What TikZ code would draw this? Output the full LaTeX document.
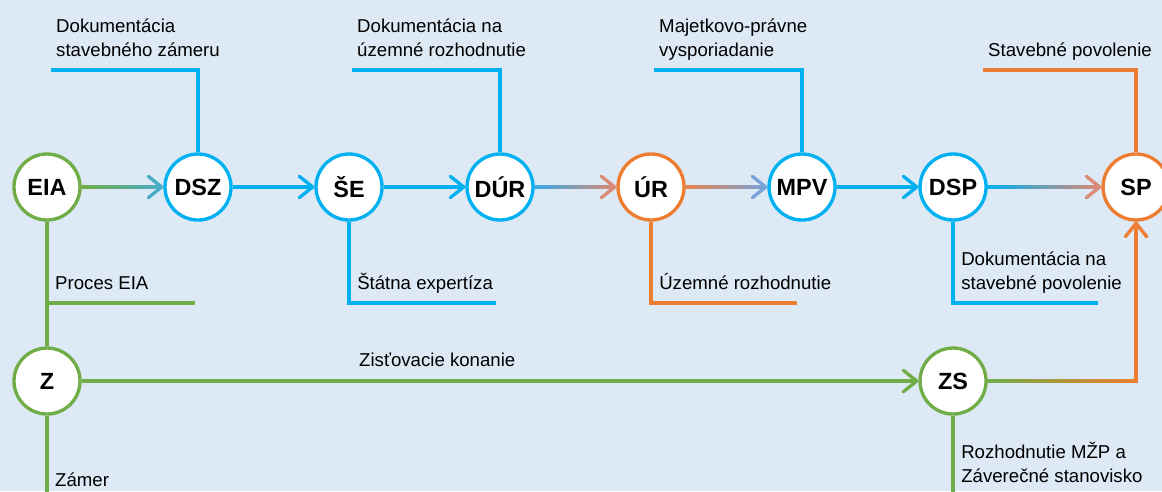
\documentclass[tikz,border=0pt]{standalone}
\usepackage{fontspec}
\setmainfont{Liberation Sans}
\usetikzlibrary{arrows.meta}
\usetikzlibrary{calc}
\usetikzlibrary{positioning}
\definecolor{bgblue}{RGB}{221,233,245}
\definecolor{cblue}{RGB}{0,176,240}
\definecolor{cgreen}{RGB}{112,173,71}
\definecolor{corange}{RGB}{237,125,49}
\definecolor{cteal}{RGB}{75,172,198}
\definecolor{csalmon}{RGB}{218,138,118}
\definecolor{csteel}{RGB}{120,163,218}
\tikzstyle{stage} = [draw, circle, fill=white, line width=0.1cm,
    minimum size=1.98cm, inner sep=0pt, font=\fontsize{20}{24}\selectfont\bfseries]
\tikzstyle{note} = [anchor=south west, align=left, inner xsep=0.24cm, inner ysep=0.17cm,
    text=black, font=\fontsize{15.9}{20.8}\selectfont, execute at end node=\strut]
\tikzstyle{leg} = [line width=0.1cm]
\tikzstyle{link} = [leg, ->]
% colour fade along a horizontal connector
\newcommand{\fadeline}[4]{%
  \shade[left color=#3, right color=#4]
    ([yshift=0.05cm]#1) rectangle ([yshift=-0.05cm]#2);
}
\newcommand{\fadelink}[4]{%
  \draw[link, #4] ($(#1)!0.9!(#2)$) -- (#2);
  \fadeline{#1}{$(#1)!0.97!(#2)$}{#3}{#4}%
}

\begin{document}
\begin{tikzpicture}[x=0.03cm, y=-0.03cm, node distance=4.53cm,
    >={Straight Barb[length=0.4cm, width=0.64cm, round]}]
    \fill[bgblue] (0,0) rectangle (1162,491);
    \useasboundingbox (0,0) rectangle (1162,491);

    % the stages
    \node [stage, draw=cgreen] (eia) at (47,187) {EIA};
    \node [stage, draw=cblue, right of=eia] (dsz) {DSZ};
    \node [stage, draw=cblue, right of=dsz] (se) {ŠE};
    \node [stage, draw=cblue, right of=se] (dur) {DÚR};
    \node [stage, draw=corange, right of=dur] (ur) {ÚR};
    \node [stage, draw=cblue, right of=ur] (mpv) {MPV};
    \node [stage, draw=cblue, right of=mpv] (dsp) {DSP};
    \node [stage, draw=corange, right of=dsp, node distance=5.49cm] (sp) {SP};
    \node [stage, draw=cgreen, below of=eia, node distance=5.82cm] (z) {Z};
    \node [stage, draw=cgreen, below of=dsp, node distance=5.82cm] (zs) {ZS};

    % main line
    \fadelink{eia.east}{dsz.west}{cgreen}{cteal}
    \draw [link, cblue] (dsz) -- (se);
    \draw [link, cblue] (se) -- (dur);
    \fadelink{dur.east}{ur.west}{cblue!55!csteel}{csalmon}
    \fadelink{ur.east}{mpv.west}{corange!60!csalmon}{csteel}
    \draw [link, cblue] (mpv) -- (dsp);
    \fadelink{dsp.east}{sp.west}{cblue}{csalmon}

    % EIA branch
    \draw [leg, cgreen] (eia) -- (z);
    \draw [link, cgreen] (z) -- node[note, anchor=south, pos=0.425] (zk) {Zisťovacie konanie} (zs);
    \coordinate (bend) at (sp |- zs);
    \draw [link, corange] ([yshift=-0.05cm]bend) -- (sp);
    \fadeline{zs.east}{bend}{cgreen}{corange}

    % notes above
    \coordinate (dszc) at (51,70);
    \coordinate (durc) at (352,70);
    \coordinate (mpvc) at (654,70);
    \coordinate (spc) at (983,70);
    \draw [leg, cblue] (dsz) |- (dszc);
    \draw [leg, cblue] (dur) |- (durc);
    \draw [leg, cblue] (mpv) |- (mpvc);
    \draw [leg, corange] (sp) |- (spc);
    \node [note, inner xsep=0.15cm] (dszt) at (dszc) {Dokumentácia\\stavebného zámeru};
    \node [note, inner xsep=0.15cm] (durt) at (durc) {Dokumentácia na\\územné rozhodnutie};
    \node [note, inner xsep=0.15cm] (mpvt) at (mpvc) {Majetkovo-právne\\vysporiadanie};
    \node [note, inner xsep=0.15cm] (spt) at (spc) {Stavebné povolenie};

    % notes below
    \coordinate (eiac) at (195,303);
    \coordinate (sec) at (496,303);
    \coordinate (urc) at (797,303);
    \coordinate (dspc) at (1098,303);
    \coordinate (zc) at (47,500);
    \coordinate (zsc) at (952,496);
    \draw [leg, cgreen] (eia |- eiac) -- (eiac);
    \draw [leg, cblue] (se) |- (sec);
    \draw [leg, corange] (ur) |- (urc);
    \draw [leg, cblue] (dsp) |- (dspc);
    \draw [leg, cgreen] (z) -- (zc);
    \draw [leg, cgreen] (zs) -- (zs |- zsc);
    \node [note] (eiat) at (eia |- eiac) {Proces EIA};
    \node [note] (set) at (se |- sec) {Štátna expertíza};
    \node [note] (urt) at (ur |- urc) {Územné rozhodnutie};
    \node [note] (dspt) at (dsp |- dspc) {Dokumentácia na\\stavebné povolenie};
    \node [note] (zt) at (zc) {Zámer};
    \node [note] (zst) at (zs |- zsc) {Rozhodnutie MŽP a\\Záverečné stanovisko};
\end{tikzpicture}
\end{document}
